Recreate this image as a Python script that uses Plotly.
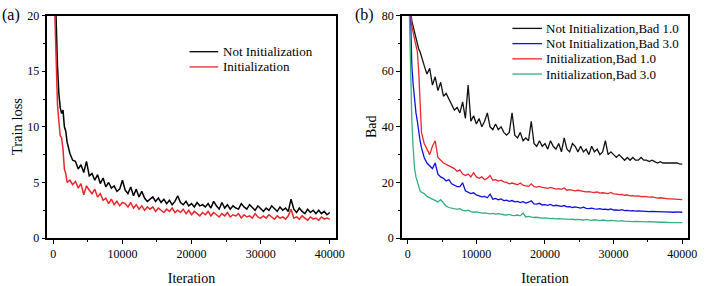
import plotly.graph_objects as go

# x grid (iterations)
ITER = [200, 400, 600, 800, 1000, 1200, 1400, 1600, 1800, 2000] + list(range(2400, 40001, 400))

# (a) train loss
loss_not_init = [24, 18.7, 15.5, 13.0, 11.7, 11.2, 11.5, 10.0, 9.6, 8.6,
    7.6, 7.0, 6.9, 6.2, 6.6, 5.9, 6.9, 5.6, 5.8, 5.2,
    5.7, 4.9, 5.4, 4.6, 5.0, 4.5, 4.7, 4.2, 4.4, 5.2,
    4.3, 4.0, 4.6, 3.8, 4.4, 3.7, 4.2, 3.6, 3.3, 3.5,
    3.7, 3.3, 3.6, 3.2, 3.5, 3.1, 3.4, 3.0, 3.3, 3.8,
    3.2, 3.0, 3.3, 2.9, 3.1, 2.8, 3.2, 2.9, 3.0, 2.8,
    3.1, 2.7, 3.3, 2.9, 2.6, 3.2, 2.7, 3.0, 2.6, 2.9,
    2.7, 2.6, 3.1, 2.8, 2.6, 3.0, 2.7, 2.5, 2.9, 2.6,
    2.4, 2.7, 2.5, 2.9, 2.6, 2.4, 2.8, 2.5, 2.7, 2.4,
    3.5, 2.6, 2.3, 2.7, 2.4, 2.2, 2.6, 2.3, 2.5, 2.2,
    2.5, 2.2, 2.4, 2.1, 2.3]
loss_init = [20.5, 15.2, 12.0, 10.5, 9.2, 9.0, 8.0, 6.2, 5.8, 5.0,
    5.2, 4.8, 5.1, 4.5, 4.9, 3.9, 4.7, 4.3, 4.0, 4.4,
    3.7, 4.0, 3.4, 3.6, 3.1, 3.5, 3.0, 3.3, 2.9, 3.2,
    3.1, 2.8, 3.2, 2.7, 3.0, 2.6, 2.9, 2.5, 2.8, 2.6,
    2.8, 2.4, 2.7, 2.5, 2.3, 2.6, 2.4, 2.7, 2.3, 2.5,
    2.3, 2.6, 2.2, 2.5, 2.1, 2.4, 2.2, 2.0, 2.3, 2.1,
    2.4, 2.0, 2.3, 2.1, 1.9, 2.2, 2.0, 2.3, 1.9, 2.1,
    2.0, 2.2, 1.8, 2.1, 1.9, 2.0, 1.8, 2.2, 1.9, 1.8,
    2.0, 1.8, 2.1, 1.9, 1.7, 2.0, 1.8, 1.9, 1.7, 2.0,
    2.6, 1.8, 1.9, 1.7, 2.0, 1.8, 1.6, 1.9, 1.7, 1.8,
    1.6, 1.9, 1.7, 1.8, 1.7]

# (b) Bad
bad_not_init_1 = [95, 82, 78, 76, 73, 72, 70, 68, 67, 65,
    62, 59, 61, 55, 58, 53, 56, 51, 52, 50,
    48, 46, 47, 45, 49, 43, 55, 42, 44, 41,
    43, 40, 42, 45, 40, 39, 41, 39, 40, 38,
    37, 38, 45, 37, 36, 38, 35, 36, 35, 42,
    34, 33, 35, 33, 34, 32, 35, 33, 32, 34,
    31, 36, 32, 31, 34, 33, 31, 33, 31, 32,
    30, 33, 31, 32, 30, 31, 35, 30, 31, 30,
    29, 30, 29, 28, 29, 28, 29, 28, 28, 29,
    28, 28, 27.5, 28, 27.5, 27, 27.5, 27, 27, 27,
    27, 26.8, 27, 26.7, 26.6]
bad_not_init_3 = [100, 82, 62, 55, 49, 45, 42, 38, 35, 32.5,
    29, 27, 26, 25, 27, 23, 22, 21.5, 20.5, 21,
    19.5, 19, 18.5, 18.5, 19.9, 17, 16.5, 16, 16.3, 15.5,
    15.2, 14.8, 15, 14.5, 15.8, 14, 14.3, 13.8, 14.1, 13.5,
    13.6, 13.2, 13.5, 13, 13.2, 12.8, 13.1, 12.6, 12.9, 13.4,
    12.3, 12.2, 12.5, 11.9, 12, 11.8, 12.1, 11.6, 11.8, 11.5,
    11.4, 11.7, 11.2, 11.3, 11, 11.2, 10.9, 10.8, 11.1, 10.7,
    10.6, 10.8, 10.5, 10.4, 10.6, 10.3, 10.4, 10.2, 10.5, 10.1,
    10.1, 10, 10.2, 9.9, 10, 9.8, 9.9, 9.7, 9.8, 9.7,
    9.6, 9.7, 9.5, 9.6, 9.5, 9.4, 9.5, 9.4, 9.4, 9.3,
    9.4, 9.3, 9.4, 9.3, 9.3]
bad_init_1 = [100, 82, 76, 74, 72, 70, 67, 60, 46, 38,
    34, 32, 30, 33, 35, 29, 28, 27, 26.5, 26,
    25.5, 25, 24, 24.5, 23, 22.5, 23, 22, 23.5, 22,
    21.5, 22, 21, 21.5, 22.5, 20.8, 21, 20.5, 20.8, 20.2,
    20, 19.5, 19.8, 19.5, 19.2, 19.8, 19, 18.8, 18.6, 19.5,
    18.5, 18.3, 18.6, 18.2, 18, 17.9, 18.2, 17.8, 17.6, 17.8,
    17.5, 18, 17.2, 17.4, 17.1, 17, 17.2, 16.9, 16.8, 16.6,
    16.7, 16.5, 16.4, 16.6, 16.2, 16.3, 16.1, 16, 16.4, 15.9,
    15.8, 15.6, 15.7, 15.4, 15.5, 15.2, 15.3, 15.1, 15.2, 14.9,
    15, 14.8, 14.7, 14.8, 14.5, 14.4, 14.5, 14.3, 14.2, 14.1,
    14.1, 14, 13.9, 13.9, 13.8]
bad_init_3 = [85, 58, 42, 32, 25, 22, 20, 18.5, 17, 16.5,
    16, 15, 14.5, 14, 13.5, 13, 13.8, 12.5, 11.5, 11,
    10.8, 10.5, 10.3, 10.6, 10, 9.8, 10, 9.5, 9.3, 9.4,
    9.2, 9, 9.1, 8.9, 8.7, 8.9, 8.6, 8.8, 8.5, 8.4,
    8.3, 8.5, 8.2, 8.1, 8.3, 8, 9, 7.6, 7.8, 7.5,
    7.4, 7.5, 7.3, 7.2, 7.3, 7.1, 7, 7.1, 6.9, 7,
    6.9, 6.8, 6.9, 6.7, 6.8, 6.6, 6.7, 6.6, 6.5, 6.7,
    6.5, 6.4, 6.6, 6.4, 6.3, 6.5, 6.3, 6.2, 6.4, 6.2,
    6.2, 6.1, 6.3, 6.1, 6, 6.1, 5.9, 6, 5.9, 6,
    5.9, 5.8, 5.9, 5.8, 5.7, 5.8, 5.7, 5.7, 5.6, 5.7,
    5.6, 5.6, 5.7, 5.6, 5.6]

X_TICKS = [0, 10000, 20000, 30000, 40000]
Y_TICKS_A = [0, 5, 10, 15, 20]
Y_TICKS_B = [0, 20, 40, 60, 80]

FONT = "Liberation Serif, Times New Roman, serif"
BLACK = "#000000"
RED = "#e8262b"
BLUE = "#1010e0"
GREEN = "#34b07c"

series_a = [("Not Initialization", loss_not_init, BLACK),
            ("Initialization", loss_init, RED)]
series_b = [("Not Initialization,Bad 1.0", bad_not_init_1, "#111111"),
            ("Not Initialization,Bad 3.0", bad_not_init_3, BLUE),
            ("Initialization,Bad 1.0", bad_init_1, RED),
            ("Initialization,Bad 3.0", bad_init_3, GREEN)]

W, H = 708, 286
fig = go.Figure()
shapes, annotations = [], []

def add_series(series, xa, ya, lx0, lx1, tx, row0, gap, lw):
    for i, (name, vals, color) in enumerate(series):
        fig.add_trace(go.Scatter(x=ITER, y=vals, name=name, mode="lines",
                                 line=dict(color=color, width=lw),
                                 xaxis=xa, yaxis=ya, showlegend=False))
        yy = 1 - (row0 + i * gap) / H
        shapes.append(dict(type="line", xref="paper", yref="paper",
                           x0=lx0 / W, x1=lx1 / W, y0=yy, y1=yy,
                           line=dict(color=color, width=1.3)))
        annotations.append(dict(text=name, x=tx / W, y=yy, xref="paper", yref="paper",
                                xanchor="left", yanchor="middle", showarrow=False,
                                font=dict(family=FONT, size=13, color="black")))

add_series(series_a, "x", "y", 192, 221, 224, 47, 16, 1.5)
add_series(series_b, "x2", "y2", 519, 549, 551, 22.5, 16, 1.3)

ytop, ybot = 9, 243
ydom = [1 - ybot / H, 1 - ytop / H]
ymid = 1 - ((ytop + ybot) / 2) / H

axis_common = dict(showline=True, linecolor="black", linewidth=1.6, mirror=True,
                   ticks="outside", ticklen=4, tickwidth=1.2, tickcolor="black",
                   showgrid=False, zeroline=False,
                   tickfont=dict(family=FONT, size=12, color="black"),
                   title_font=dict(family=FONT, size=14, color="black"))

xa = dict(axis_common, range=[-860, 40860], tickvals=X_TICKS,
          ticktext=[str(v) for v in X_TICKS],
          minor=dict(ticks="outside", ticklen=2.5, dtick=5000, tick0=0, tickcolor="black"),
          title=dict(text="Iteration", standoff=14))

annotations += [
    dict(text="(a)", x=0, y=1 - 8 / H, xref="paper", yref="paper",
         xanchor="left", yanchor="middle", showarrow=False,
         font=dict(family=FONT, size=16, color="black")),
    dict(text="(b)", x=358 / W, y=1 - 8 / H, xref="paper", yref="paper",
         xanchor="left", yanchor="middle", showarrow=False,
         font=dict(family=FONT, size=16, color="black")),
    dict(text="Train loss", x=17.5 / W, y=ymid, xref="paper", yref="paper",
         xanchor="center", yanchor="middle", textangle=-90, showarrow=False,
         font=dict(family=FONT, size=14.5, color="black")),
    dict(text="Bad", x=377 / W, y=ymid, xref="paper", yref="paper",
         xanchor="center", yanchor="middle", textangle=-90, showarrow=False,
         font=dict(family=FONT, size=14, color="black")),
]

fig.update_layout(
    width=W, height=H, margin=dict(l=0, r=0, t=0, b=0),
    paper_bgcolor="white", plot_bgcolor="white",
    showlegend=False,
    xaxis=dict(xa, domain=[48 / W, 340 / W], anchor="y"),
    yaxis=dict(axis_common, domain=ydom, range=[0, 20], tickvals=Y_TICKS_A,
               minor=dict(ticks="outside", ticklen=2.5, dtick=2.5, tick0=0, tickcolor="black"),
               anchor="x"),
    xaxis2=dict(xa, domain=[407 / W, 697 / W], anchor="y2"),
    yaxis2=dict(axis_common, domain=ydom, range=[0, 80], tickvals=Y_TICKS_B,
                minor=dict(ticks="outside", ticklen=2.5, dtick=10, tick0=0, tickcolor="black"),
                anchor="x2"),
    shapes=shapes,
    annotations=annotations,
)

fig.write_html("out.html")
